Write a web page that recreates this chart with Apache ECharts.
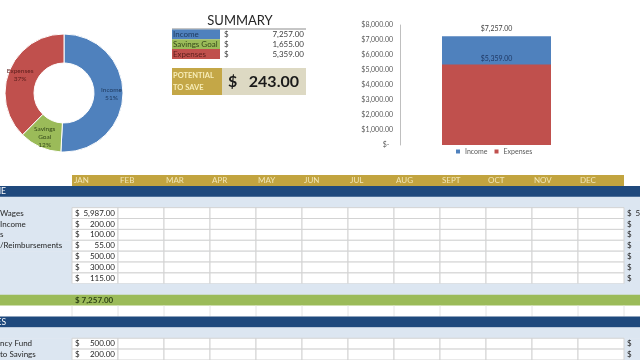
<!DOCTYPE html>
<html><head><meta charset="utf-8">
<script src="https://cdn.jsdelivr.net/npm/echarts@6/dist/echarts.min.js"></script>
<style>html,body{margin:0;padding:0;background:#fff}#c{width:640px;height:360px}</style>
</head><body><div id="c"></div>
<script>
// ---------- data ----------
const months = ['JAN','FEB','MAR','APR','MAY','JUN','JUL','AUG','SEPT','OCT','NOV','DEC'];
const incomeItems = ['Wages','Income','s','/Reimbursements','','',''];
const incomeJan = [5987, 200, 100, 55, 500, 300, 115];
const expenseItems = ['ncy Fund','to Savings'];
const expenseJan = [500, 200];
const summaryLabels = ['Income','Savings Goal','Expenses'];
const summaryValues = [7257, 1655, 5359];
const potentialToSave = 243;
const barNames = ['Income','Expenses'];
const barValues = [7257, 5359];
const barAxisMin = 0, barAxisMax = 8000, barAxisStep = 1000;

// ---------- styles ----------
const FONT = 'Lato';
const C_BLUE = '#4F81BD', C_RED = '#C0504D', C_GREEN = '#9BBB59';
const C_NAVY = '#1F497D', C_GOLD = '#C2A43F', C_LB = '#DCE6F1', C_TAN = '#DDD9C3';
const sliceColors = [C_BLUE, C_GREEN, C_RED];
const sliceText = ['#1F3A60', '#35491A', '#5C1E1C'];

function fmt(v){
  const s = v.toFixed(2); const p = s.split('.');
  return p[0].replace(/\B(?=(\d{3})+(?!\d))/g, ',') + '.' + p[1];
}

// ---------- table structure ----------
const rows = [];
rows.push({type:'header'});
rows.push({type:'section', text:'INCOME'});
rows.push({type:'spacer'});
incomeItems.forEach((l,i)=>rows.push({type:'item', label:l, jan:incomeJan[i]}));
rows.push({type:'spacer'});
rows.push({type:'total', value: incomeJan.reduce((a,b)=>a+b,0)});
rows.push({type:'blank'});
rows.push({type:'section', text:'EXPENSES'});
rows.push({type:'spacer'});
expenseItems.forEach((l,i)=>rows.push({type:'item', label:l, jan:expenseJan[i]}));

function tableRender(params, api){
  const r = api.value(1);
  const row = rows[r];
  const cs = params.coordSys;
  const W = api.getWidth();
  const sz = api.size([1,1]);
  const colW = sz[0], rowH = sz[1];
  const c0 = api.coord([0, r]);
  const top = c0[1] - rowH/2, midY = c0[1];
  const rightX = cs.x + cs.width;
  const ch = [];
  const colLeft = m => api.coord([m, r])[0] - colW/2;
  const band = (x0, x1, fill) => ch.push({type:'rect', shape:{x:x0, y:top, width:x1-x0, height:rowH+0.5}, style:{fill}});
  const text = (x, t, align, st) => ch.push({type:'text', x, y:midY, style:Object.assign({text:t, align, verticalAlign:'middle', fontFamily:FONT, fontSize:8, fill:'#262626'}, st||{})});
  switch(row.type){
    case 'header':
      band(0, W, '#ffffff');
      band(cs.x, rightX, C_GOLD);
      months.forEach((m,i)=>text(colLeft(i)+2, m, 'left', {fill:'#F1E6B8', fontSize:8}));
      break;
    case 'section':
      band(0, W, C_NAVY);
      text(6, row.text, 'right', {fill:'#ffffff', fontSize:8.5});
      break;
    case 'spacer':
      band(0, W, C_LB);
      break;
    case 'item':
      band(0, W, C_LB);
      for (let m=0;m<12;m++){
        ch.push({type:'rect', shape:{x:colLeft(m), y:top, width:colW, height:rowH}, style:{fill:'#ffffff', stroke:'#d3d3d3', lineWidth:1}});
      }
      text(0, row.label, 'left');
      text(colLeft(0)+3, '$', 'left');
      text(colLeft(0)+colW-3, fmt(row.jan), 'right');
      text(rightX+3, '$', 'left');
      text(rightX+colW-3, fmt(row.jan), 'right');
      break;
    case 'total':
      band(0, W, C_GREEN);
      text(colLeft(0)+3, '$ ' + fmt(row.value), 'left', {fontWeight:'bold', fill:'#2F4415'});
      break;
    case 'blank':
      band(0, W, '#ffffff');
      for (let m=0;m<=12;m++){
        const x = cs.x + m*colW;
        ch.push({type:'line', shape:{x1:x, y1:top, x2:x, y2:top+rowH}, style:{stroke:'#e4e4e4', lineWidth:1}});
      }
      break;
  }
  return {type:'group', children:ch};
}

function summaryRender(params, api){
  const r = api.value(1);
  const cs = params.coordSys;
  const rowH = api.size([1,1])[1];
  const mid = api.coord([0, r])[1];
  const top = mid - rowH/2;
  const base = {verticalAlign:'middle', fontFamily:FONT, fontSize:8, fill:'#404040'};
  return {type:'group', children:[
    {type:'rect', shape:{x:cs.x, y:top, width:48, height:rowH}, style:{fill:sliceColors[r]}},
    {type:'text', x:cs.x+1, y:mid, style:Object.assign({}, base, {text:summaryLabels[r], align:'left', fill:sliceText[r]})},
    {type:'text', x:cs.x+52, y:mid, style:Object.assign({}, base, {text:'$', align:'left'})},
    {type:'text', x:cs.x+cs.width-2, y:mid, style:Object.assign({}, base, {text:fmt(summaryValues[r]), align:'right'})}
  ]};
}

const chart = echarts.init(document.getElementById('c'), null, {renderer:'canvas'});
chart.setOption({
  animation:false,
  backgroundColor:'#ffffff',
  textStyle:{fontFamily:FONT},
  grid:[
    {left:72, right:16, top:175, bottom:0},
    {left:172, top:29.5, width:134, height:29.4},
    {left:400, right:47, top:25, height:120}
  ],
  xAxis:[
    {gridIndex:0, type:'category', data:months, show:false},
    {gridIndex:1, type:'category', data:['summary'], show:false},
    {gridIndex:2, type:'category', data:['Total'], show:false}
  ],
  yAxis:[
    {gridIndex:0, type:'category', data:rows.map((_,i)=>String(i)), inverse:true, show:false},
    {gridIndex:1, type:'category', data:summaryLabels, inverse:true, show:false},
    {gridIndex:2, type:'value', min:barAxisMin, max:barAxisMax, interval:barAxisStep,
     axisLine:{show:true, lineStyle:{color:'#bfbfbf'}}, axisTick:{show:false}, splitLine:{show:false},
     axisLabel:{fontSize:7, color:'#595959', margin:7, formatter:v => v===0 ? '$-  ' : '$' + fmt(v)}}
  ],
  legend:{data:barNames, left:456, top:148, icon:'rect', itemWidth:4, itemHeight:4, itemGap:7, padding:0,
    textStyle:{fontSize:7, color:'#595959'}},
  graphic:[
    {type:'text', x:240, y:21, style:{text:'SUMMARY', align:'center', verticalAlign:'middle', fontFamily:FONT, fontSize:13, fill:'#262626'}},
    {type:'line', shape:{x1:172, y1:29, x2:306, y2:29}, style:{stroke:'#8c8c8c', lineWidth:1}},
    {type:'rect', shape:{x:172, y:68, width:50, height:27}, style:{fill:'#C4A747'}},
    {type:'rect', shape:{x:222, y:68, width:84, height:27}, style:{fill:C_TAN}},
    {type:'text', x:173, y:76, style:{text:'POTENTIAL', align:'left', verticalAlign:'middle', fontFamily:FONT, fontSize:7.5, fontWeight:'bold', fill:'#F7EDB8'}},
    {type:'text', x:173, y:88, style:{text:'TO SAVE', align:'left', verticalAlign:'middle', fontFamily:FONT, fontSize:7.5, fontWeight:'bold', fill:'#F7EDB8'}},
    {type:'text', x:228, y:82, style:{text:'$', align:'left', verticalAlign:'middle', fontFamily:FONT, fontSize:16, fontWeight:'bold', fill:'#1a1a1a'}},
    {type:'text', x:299, y:82, style:{text:fmt(potentialToSave), align:'right', verticalAlign:'middle', fontFamily:FONT, fontSize:16, fontWeight:'bold', fill:'#1a1a1a'}}
  ],
  series:[
    {type:'pie', center:[64,93], radius:[30,59], startAngle:90, clockwise:true, percentPrecision:0,
     itemStyle:{borderColor:'#ffffff', borderWidth:1}, silent:true,
     label:{position:'inside', fontSize:6.5, lineHeight:8,
       formatter:p => p.name.replace(' ', '\n') + '\n' + p.percent + '%'},
     labelLine:{show:false},
     data:summaryLabels.map((n,i)=>({name:n, value:summaryValues[i], itemStyle:{color:sliceColors[i]}, label:{color:sliceText[i]}}))},
    {type:'custom', name:'table', xAxisIndex:0, yAxisIndex:0, renderItem:tableRender, silent:true,
     data:rows.map((_,i)=>[0,i])},
    {type:'custom', name:'summary', xAxisIndex:1, yAxisIndex:1, renderItem:summaryRender, silent:true,
     data:summaryLabels.map((_,i)=>[0,i])},
    {type:'bar', name:barNames[0], xAxisIndex:2, yAxisIndex:2, barWidth:109, data:[barValues[0]],
     itemStyle:{color:C_BLUE},
     label:{show:true, position:'top', distance:4, fontSize:7, color:'#404040', formatter:p=>'$'+fmt(p.value)}},
    {type:'bar', name:barNames[1], xAxisIndex:2, yAxisIndex:2, barWidth:109, barGap:'-100%', data:[barValues[1]],
     itemStyle:{color:C_RED},
     label:{show:true, position:'top', distance:2, fontSize:7, color:'#1F3864', formatter:p=>'$'+fmt(p.value)}}
  ]
});
</script></body></html>
